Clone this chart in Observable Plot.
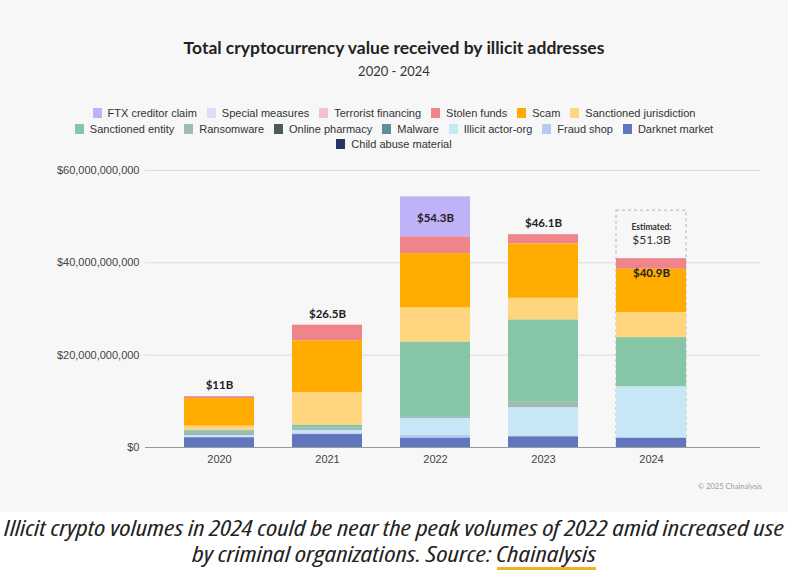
<!DOCTYPE html>
<html>
<head>
<meta charset="utf-8">
<script src="https://cdn.jsdelivr.net/npm/d3@7"></script>
<script src="https://cdn.jsdelivr.net/npm/@observablehq/plot@0.6"></script>
<style>
  html, body { margin: 0; padding: 0; background: #fff; }
  #wrap { position: relative; width: 788px; height: 577px; overflow: hidden; }
  #panel { position: absolute; left: 0; top: 0; width: 788px; height: 512px; background: #f7f7f7; }
  .title { position: absolute; left: 0; width: 788px; text-align: center; font-family: Lato, "Open Sans", sans-serif; color: #222; }
  .legrow { position: absolute; left: 0; width: 788px; display: flex; justify-content: center; font-family: "Liberation Sans", Arial, sans-serif; font-size: 11px; color: #333; white-space: nowrap; }
  .item { display: flex; align-items: center; margin: 0 5px; }
  .sw { width: 9px; height: 10px; margin-right: 6px; display: inline-block; }
  #chart { position: absolute; left: 0; top: 160px; }
  .cap { position: absolute; left: 0; width: 788px; text-align: center; font-family: "Open Sans", sans-serif; font-style: italic; font-size: 21px; color: #222; white-space: nowrap; font-stretch: 75%; }
  .cap span.in { display: inline-block; transform-origin: center; }
  .src { position: relative; }
  .src::after { content: ""; position: absolute; left: 0; right: 0; bottom: -2px; height: 3px; background: #f0b323; }
  #copy { position: absolute; right: 26px; top: 482px; font-family: Lato, sans-serif; font-size: 7.5px; color: #9a9a9a; }
</style>
</head>
<body>
<div id="wrap">
  <div id="panel"></div>
  <div class="title" style="top:37px;font-size:17.5px;font-weight:700;">Total cryptocurrency value received by illicit addresses</div>
  <div class="title" style="top:63px;font-size:13px;color:#333;">2020 - 2024</div>
  <div id="legend"></div>
  <div id="chart"></div>
  <div id="copy">© 2025 Chainalysis</div>
  <div class="cap" style="top:514px;"><span class="in" id="cap1">Illicit crypto volumes in 2024 could be near the peak volumes of 2022 amid increased use</span></div>
  <div class="cap" style="top:540px;"><span class="in" id="cap2">by criminal organizations. Source: <span class="src">Chainalysis</span></span></div>
</div>
<script>
// ---- Data (values in billions of USD) ----
const years = ["2020", "2021", "2022", "2023", "2024"];

const categories = [
  "FTX creditor claim", "Special measures", "Terrorist financing", "Stolen funds", "Scam", "Sanctioned jurisdiction",
  "Sanctioned entity", "Ransomware", "Online pharmacy", "Malware", "Illicit actor-org", "Fraud shop", "Darknet market",
  "Child abuse material"
];
const colors = [
  "#c0b2f8", "#dcdcf8", "#f3c1c9", "#ef858b", "#ffab00", "#ffd580",
  "#86c6a7", "#9cbdb5", "#4e5a57", "#5f8e97", "#c7e6f6", "#b7cbef", "#5f75bd",
  "#2c3466"
];
const legendRows = [6, 7, 1];

const ftxCreditorClaim   = [0,    0,    8.7,  0,    0];
const specialMeasures    = [0,    0,    0,    0,    0];
const terroristFinancing = [0,    0,    0,    0,    0];
const stolenFunds        = [0.4,  3.4,  3.6,  2.0,  2.3];
const scam               = [6.0,  11.3, 11.8, 11.8, 9.4];
const sanctionedJuris    = [0.9,  7.0,  7.4,  4.7,  5.4];
const sanctionedEntity   = [0.2,  0.5,  16.1, 17.8, 10.7];
const ransomware         = [0.8,  0.5,  0.3,  1.1,  0];
const onlinePharmacy     = [0,    0,    0,    0,    0];
const malware            = [0.1,  0.1,  0.1,  0.1,  0];
const illicitActorOrg    = [0.4,  0.7,  3.7,  6.1,  11.1];
const fraudShop          = [0.1,  0.2,  0.6,  0.2,  0];
const darknetMarket      = [2.1,  2.8,  2.0,  2.3,  2.0];
const childAbuse         = [0,    0,    0,    0,    0];

const totalLabels = ["$11B", "$26.5B", "$54.3B", "$46.1B", "$40.9B"];
const estimatedYear = "2024";
const estimatedTotal = 51.3;
const estimatedLabel = "$51.3B";
const yTicks = [0, 20, 40, 60];

// ---- Build table ----
const seriesValues = [
  ftxCreditorClaim, specialMeasures, terroristFinancing, stolenFunds, scam, sanctionedJuris,
  sanctionedEntity, ransomware, onlinePharmacy, malware, illicitActorOrg, fraudShop, darknetMarket, childAbuse
];
const rows = [];
categories.forEach((c, i) => {
  years.forEach((y, j) => rows.push({year: y, category: c, value: seriesValues[i][j]}));
});
const stackOrder = categories.slice().reverse();
const totals = years.map((y, j) => ({
  year: y,
  total: d3.sum(seriesValues, s => s[j]),
  label: totalLabels[j]
}));

// ---- Legend ----
const legend = document.getElementById("legend");
let idx = 0;
const rowTops = [107, 123, 138];
legendRows.forEach((n, r) => {
  const row = document.createElement("div");
  row.className = "legrow";
  row.style.top = rowTops[r] + "px";
  for (let k = 0; k < n; k++, idx++) {
    const it = document.createElement("span");
    it.className = "item";
    const sw = document.createElement("span");
    sw.className = "sw";
    sw.style.background = colors[idx];
    it.appendChild(sw);
    it.appendChild(document.createTextNode(categories[idx]));
    row.appendChild(it);
  }
  legend.appendChild(row);
});

// ---- Chart ----
const fmt = d3.format(",");
const chart = Plot.plot({
  width: 788,
  height: 312,
  marginTop: 10,
  marginBottom: 25,
  marginLeft: 145,
  marginRight: 28,
  style: {background: "transparent", fontFamily: "'Liberation Sans', Arial, sans-serif", fontSize: "11px", color: "#444"},
  x: {domain: years, range: [145, 724], padding: 0.354, label: null, tickSize: 0, tickPadding: 8},
  y: {domain: [0, 60], ticks: yTicks, label: null, tickSize: 0, tickPadding: 6,
      tickFormat: d => "$" + fmt(d * 1e9)},
  color: {domain: categories, range: colors},
  marks: [
    Plot.ruleY(yTicks.filter(t => t > 0), {stroke: "#dcdcdc"}),
    Plot.barY([{year: estimatedYear, y1: 0, y2: estimatedTotal}], {
      x: "year", y1: "y1", y2: "y2", fill: "none", stroke: "#b5b5b5", strokeDasharray: "3,3"
    }),
    Plot.barY(rows, Plot.stackY({order: stackOrder}, {x: "year", y: "value", z: "category", fill: "category"})),
    Plot.ruleY([0], {stroke: "#9a9a9a"}),
    Plot.text(totals.filter(d => d.year === "2020" || d.year === "2021" || d.year === "2023"), {
      x: "year", y: "total", text: "label", dy: -11, fontWeight: 700, fontSize: 11.5, fill: "#222", fontFamily: "Lato, sans-serif"
    }),
    Plot.text(totals.filter(d => d.year === "2022"), {
      x: "year", y: "total", text: "label", dy: 21, fontWeight: 700, fontSize: 11.5, fill: "#222", fontFamily: "Lato, sans-serif"
    }),
    Plot.text(totals.filter(d => d.year === "2024"), {
      x: "year", y: "total", text: "label", dy: 15, fontWeight: 700, fontSize: 11.5, fill: "#222", fontFamily: "Lato, sans-serif"
    }),
    Plot.text([{year: estimatedYear, total: estimatedTotal}], {
      x: "year", y: "total", text: () => "Estimated:", dy: 17, fontWeight: 700, fontSize: 8.5, fill: "#333", fontFamily: "Lato, sans-serif"
    }),
    Plot.text([{year: estimatedYear, total: estimatedTotal, label: estimatedLabel}], {
      x: "year", y: "total", text: "label", dy: 29, fontSize: 12, fill: "#333", fontFamily: "Lato, sans-serif"
    })
  ]
});
document.getElementById("chart").appendChild(chart);

// fit caption lines to reference widths
function fit(id, target) {
  const el = document.getElementById(id);
  const w = el.getBoundingClientRect().width;
  if (w > 0) el.style.transform = `scaleX(${target / w})`;
}
fit("cap1", 780);
fit("cap2", 404);
</script>
</body>
</html>
